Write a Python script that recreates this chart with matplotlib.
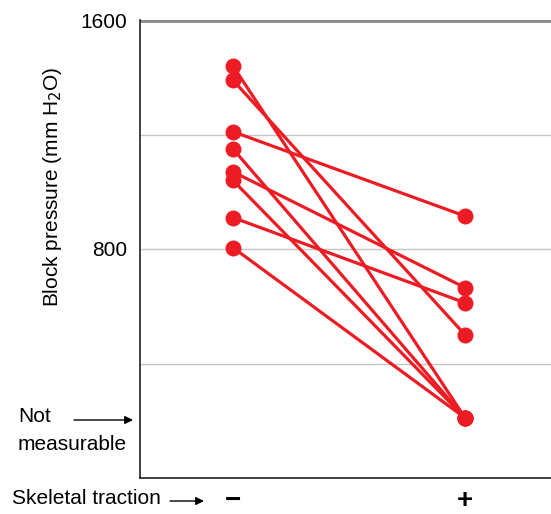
import numpy as np
import matplotlib.pyplot as plt
import matplotlib.transforms as mtransforms

plt.rcParams['font.family'] = ['Liberation Sans', 'DejaVu Sans']

# values (mm H2O); "not measurable" drawn at ~210
before = [1440, 1390, 1210, 1150, 1070, 1040, 910, 805]
after = [210, 500, 915, 210, 665, 210, 612, 210]
x_labels = ['\u2212', '+']
y_ticks = [800, 1600]
grid_lines = [400, 800, 1200]

red = '#ED1C24'
fs = 15

fig = plt.figure(figsize=(5.51, 5.14), dpi=100)
ax = fig.add_axes([140 / 551, 1 - 478 / 514, 411 / 551, 458 / 514])

for yg in grid_lines:
    ax.axhline(yg, color='#c4c4c4', lw=1.0, zorder=0)
ax.axhline(1600, color='#8c8c8c', lw=3.5, zorder=1)

for b, a in zip(before, after):
    ax.plot([0, 1], [b, a], color=red, lw=2.3, marker='o', ms=11.5,
            markeredgewidth=0, solid_capstyle='round', zorder=3)

ax.set_xlim(-0.40, 1.37)
ax.set_ylim(0, 1600)
ax.set_yticks(y_ticks)
ax.set_yticklabels([str(t) for t in y_ticks], fontsize=fs)
ax.tick_params(axis='y', length=0, pad=9)
ax.set_xticks([])
for s in ['top', 'right']:
    ax.spines[s].set_visible(False)
for s in ['left', 'bottom']:
    ax.spines[s].set_color('#222222')
    ax.spines[s].set_linewidth(1.2)

fig.text(53 / 551, 1 - 187 / 514, 'Block pressure (mm H$_2$O)', rotation=90,
         ha='center', va='center', fontsize=fs)

# "Not measurable" annotation
fig.text(18 / 551, 1 - 417 / 514, 'Not', ha='left', va='center', fontsize=fs)
fig.text(18 / 551, 1 - 444 / 514, 'measurable', ha='left', va='center', fontsize=fs)
ax.annotate('', xy=(133 / 551, 1 - 420 / 514), xytext=(74 / 551, 1 - 420 / 514),
            xycoords='figure fraction', textcoords='figure fraction',
            arrowprops=dict(arrowstyle='-|>', color='black', lw=1.0,
                            mutation_scale=12, shrinkA=0, shrinkB=0))

# x-axis row
fig.text(12 / 551, 1 - 499 / 514, 'Skeletal traction', ha='left', va='center', fontsize=fs)
ax.annotate('', xy=(204 / 551, 1 - 501 / 514), xytext=(170 / 551, 1 - 501 / 514),
            xycoords='figure fraction', textcoords='figure fraction',
            arrowprops=dict(arrowstyle='-|>', color='black', lw=1.0,
                            mutation_scale=12, shrinkA=0, shrinkB=0))
trans = mtransforms.blended_transform_factory(ax.transData, fig.transFigure)
for xi, lab in enumerate(x_labels):
    ax.text(xi, 1 - 501 / 514, lab, transform=trans, ha='center',
            va='center', fontsize=20, fontweight='bold')

fig.savefig('out.png', dpi=100)
